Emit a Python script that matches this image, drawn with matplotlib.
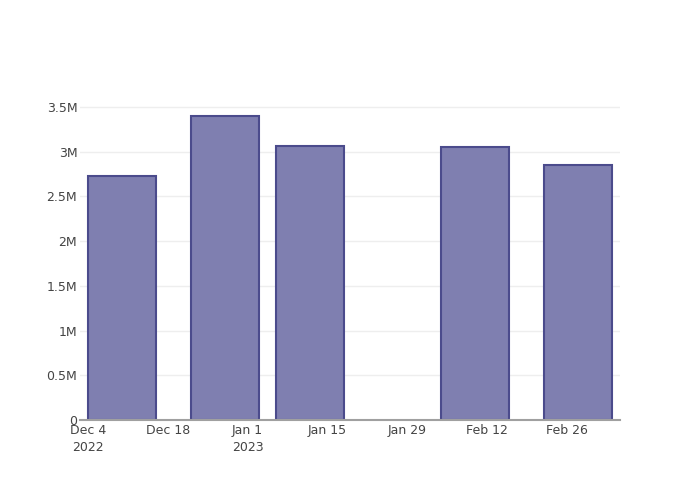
import matplotlib
matplotlib.use("Agg")
import matplotlib.pyplot as plt
import matplotlib.dates as mdates
from datetime import datetime, timedelta

# data
dates = ["2022-12-10", "2022-12-28", "2023-01-12", "2023-02-10", "2023-02-28"]
values = [2.728e6, 3.399e6, 3.064e6, 3.053e6, 2.851e6]

tick_dates = ["2022-12-04", "2022-12-18", "2023-01-01", "2023-01-15",
              "2023-01-29", "2023-02-12", "2023-02-26"]
tick_labels = ["Dec 4\n2022", "Dec 18", "Jan 1\n2023", "Jan 15",
               "Jan 29", "Feb 12", "Feb 26"]
y_ticks = [0, 0.5e6, 1e6, 1.5e6, 2e6, 2.5e6, 3e6, 3.5e6]
y_labels = ["0", "0.5M", "1M", "1.5M", "2M", "2.5M", "3M", "3.5M"]

x = [datetime.strptime(d, "%Y-%m-%d") for d in dates]
xt = [datetime.strptime(d, "%Y-%m-%d") for d in tick_dates]

plt.rcParams['font.family'] = ['DejaVu Sans']

fig = plt.figure(figsize=(7, 5), dpi=100)
ax = fig.add_axes([80 / 700, 80 / 500, 540 / 700, 320 / 500])

ax.bar(x, values, width=12, color="#7f7fb0", edgecolor="#4b4b8c",
       linewidth=1.5, zorder=3)

ax.set_xlim(datetime(2022, 12, 4) - timedelta(days=1.4),
            datetime(2022, 12, 4) + timedelta(days=93.4))
ax.set_ylim(0, 3.578e6)

ax.set_xticks([mdates.date2num(d) for d in xt])
ax.set_xticklabels(tick_labels, linespacing=1.35)
ax.set_yticks(y_ticks)
ax.set_yticklabels(y_labels)

ax.tick_params(axis="both", length=0, labelsize=9, labelcolor="#444444")
ax.tick_params(axis="x", pad=3)
ax.tick_params(axis="y", pad=2)

ax.grid(axis="y", color="#eeeeee", linewidth=1, zorder=0)
ax.set_axisbelow(True)
for s in ["top", "right", "left"]:
    ax.spines[s].set_visible(False)
ax.spines["bottom"].set_color("#a0a0a0")
ax.spines["bottom"].set_linewidth(1.5)
ax.spines["bottom"].set_zorder(4)

fig.savefig("out.png", dpi=100)
